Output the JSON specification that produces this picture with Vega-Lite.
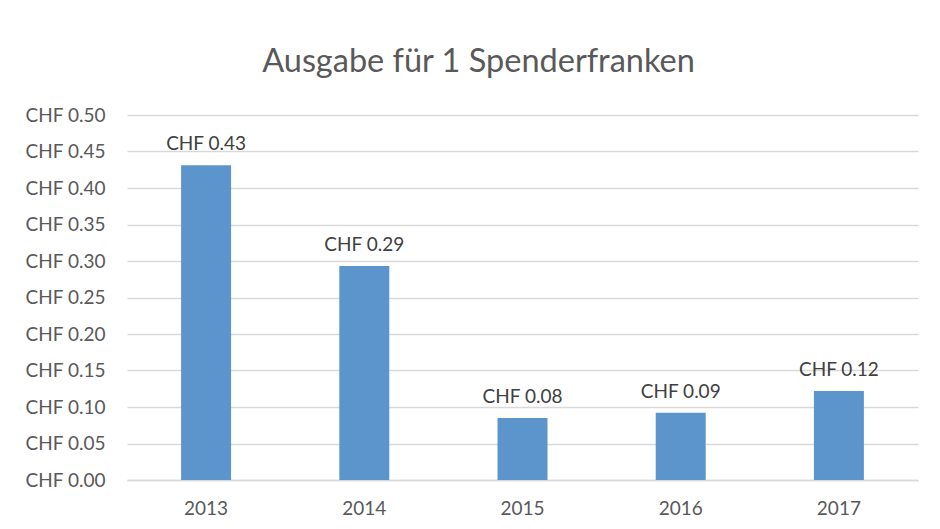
{
  "$schema": "https://vega.github.io/schema/vega-lite/v6.json",
  "width": 791,
  "height": 365,
  "autosize": "none",
  "padding": {"left": 127, "top": 115, "right": 22, "bottom": 49},
  "background": "white",
  "config": {
    "view": {"stroke": null},
    "font": "Lato"
  },
  "title": {
    "text": "Ausgabe für 1 Spenderfranken",
    "fontSize": 32.5,
    "fontWeight": "normal",
    "color": "#595959",
    "font": "Lato",
    "anchor": "middle",
    "dx": -44,
    "offset": 28
  },
  "data": {
    "values": [
      {"year": "2013", "value": 0.431, "label": "CHF 0.43"},
      {"year": "2014", "value": 0.293, "label": "CHF 0.29"},
      {"year": "2015", "value": 0.085, "label": "CHF 0.08"},
      {"year": "2016", "value": 0.092, "label": "CHF 0.09"},
      {"year": "2017", "value": 0.122, "label": "CHF 0.12"}
    ]
  },
  "encoding": {
    "x": {
      "field": "year",
      "type": "ordinal",
      "scale": {"paddingInner": 0.684, "paddingOuter": 0.342},
      "axis": {
        "title": null,
        "labelAngle": 0,
        "labelFontSize": 19,
        "labelColor": "#595959",
        "labelPadding": 19,
        "ticks": false,
        "domainColor": "#d9d9d9",
        "domainWidth": 1.5
      }
    },
    "y": {
      "field": "value",
      "type": "quantitative",
      "scale": {"domain": [0, 0.5], "nice": false},
      "axis": {
        "title": null,
        "values": [0, 0.05, 0.1, 0.15, 0.2, 0.25, 0.3, 0.35, 0.4, 0.45, 0.5],
        "labelExpr": "'CHF ' + format(datum.value, '.2f')",
        "labelFontSize": 19,
        "labelColor": "#595959",
        "labelPadding": 22,
        "ticks": false,
        "domain": false,
        "gridColor": "#d9d9d9",
        "gridWidth": 1.5
      }
    }
  },
  "layer": [
    {"mark": {"type": "bar", "color": "#5b95cc"}},
    {
      "mark": {"type": "text", "baseline": "bottom", "dy": -11, "fontSize": 19, "color": "#404040"},
      "encoding": {"text": {"field": "label"}}
    }
  ]
}
